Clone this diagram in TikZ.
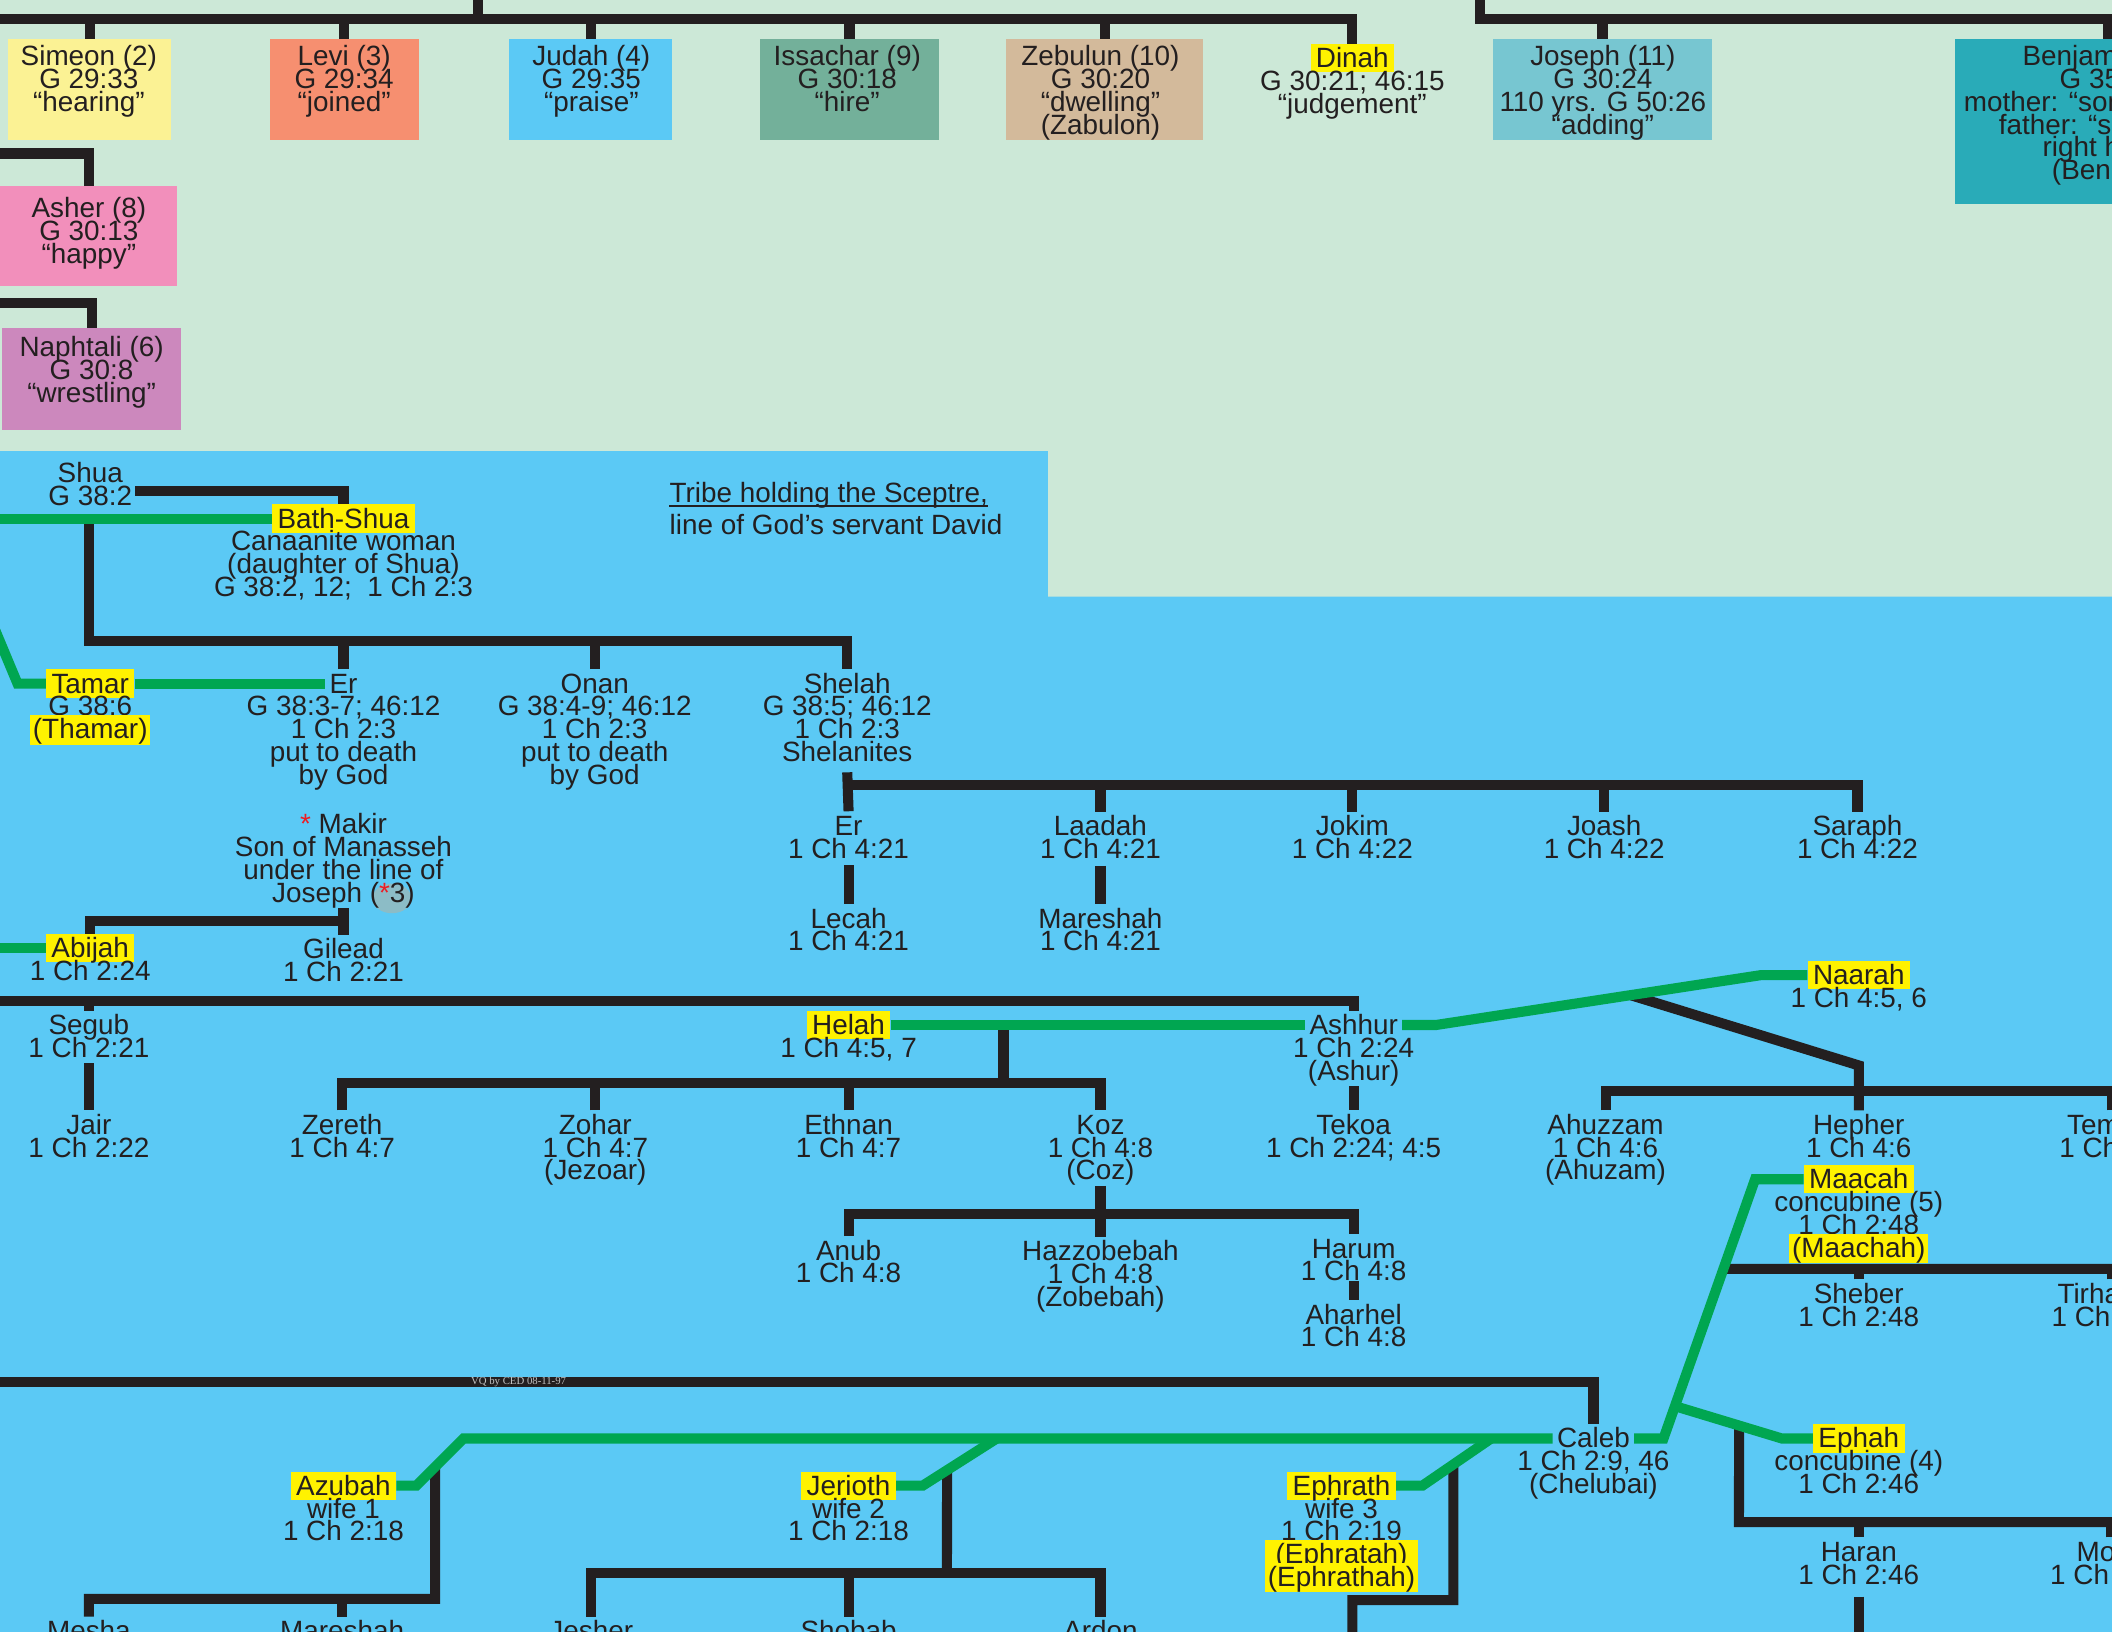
\documentclass[tikz,border=0pt]{standalone}
\usepackage{fontspec}
\usepackage{calc}
\setmainfont{Liberation Sans}
\newfontfamily\vqfont{Liberation Serif}
\usetikzlibrary{calc}
\definecolor{bggreen}{HTML}{CCE8D7}
\definecolor{judahblue}{HTML}{5BC9F5}
\definecolor{ink}{HTML}{231F20}
\definecolor{lnblack}{HTML}{231F20}
\definecolor{lngreen}{HTML}{00A651}
\definecolor{hly}{HTML}{FFF200}
\definecolor{cSimeon}{HTML}{FBF294}
\definecolor{cLevi}{HTML}{F68F70}
\definecolor{cIssachar}{HTML}{73B09A}
\definecolor{cZebulun}{HTML}{D3BA9B}
\definecolor{cJoseph}{HTML}{77C6D1}
\definecolor{cBenjamin}{HTML}{29ABB8}
\definecolor{cAsher}{HTML}{F28FBB}
\definecolor{cNaphtali}{HTML}{CC88BD}
\definecolor{astred}{HTML}{ED1C24}
\definecolor{markgray}{HTML}{8CBCC6}
\definecolor{vqgray}{HTML}{C4C4C4}
\pgfdeclarelayer{bg}
\pgfdeclarelayer{lines}
\pgfsetlayers{bg,lines,main}
\newcommand\fs{\fontsize{20.7}{17}\selectfont}
\newcommand\Lns[1]{\vtop{\baselineskip=17pt\lineskiplimit=-100pt\lineskip=0pt\let\\\cr\halign{\hfil##\hfil\cr#1\crcr}}}
\newcommand\hl[1]{{\fboxsep=0pt\colorbox{hly}{\rule[-3.5pt]{0pt}{21pt}\hspace{2pt}#1\hspace{2pt}}}}
\newcommand\rast{\textcolor{astred}{*}}
\newcommand\Person[5][nm]{%
  \node[#1] (#2) at #3 {#4};
  \node[dt] (#2-d) at ([yshift=-17pt]#2.base) {\Lns{#5}};}
\begin{document}
\begin{tikzpicture}[x=1pt,y=-1pt,
  nm/.style={anchor=base,yshift=-7pt,inner xsep=3pt,inner ysep=0pt,text height=17.5pt,text depth=3.5pt,font=\fs,text=ink},
  hn/.style={nm,fill=hly,inner xsep=4pt},
  dt/.style={anchor=base,inner sep=0pt,font=\fs,text=ink},
  sonbox/.style={anchor=north west,inner sep=0pt,draw=none},
  bl/.style={draw=lnblack,line width=7.5pt},
  gl/.style={draw=lngreen,line width=7.5pt}]
\useasboundingbox (0,0) rectangle (1568,1211.6);
\clip (0,0) rectangle (1568,1211.6);
\begin{pgfonlayer}{bg}
\fill[bggreen] (0,0) rectangle (1568,1211.6);
\fill[judahblue] (0,335) -- (778,335) -- (778,443) -- (1568,443) -- (1568,1211.6) -- (0,1211.6) -- cycle;
\fill[markgray] (291,667) ellipse [x radius=14.5, y radius=11];
\end{pgfonlayer}

% coloured boxes of the sons
\node[sonbox,fill=cSimeon,minimum width=121pt,minimum height=75pt] (simeonB) at (6,29) {};
\node[sonbox,fill=cLevi,minimum width=111pt,minimum height=75pt] (leviB) at (200,29) {};
\node[sonbox,fill=judahblue,minimum width=121pt,minimum height=75pt] (judahB) at (378,29) {};
\node[sonbox,fill=cIssachar,minimum width=133pt,minimum height=75pt] (issacharB) at (564,29) {};
\node[sonbox,fill=cZebulun,minimum width=146pt,minimum height=75pt] (zebulunB) at (747,29) {};
\node[sonbox,fill=cJoseph,minimum width=163pt,minimum height=75pt] (josephB) at (1108,29) {};
\node[sonbox,fill=cBenjamin,minimum width=228pt,minimum height=122pt] (benjaminB) at (1451,29) {};
\node[sonbox,fill=cAsher,minimum width=131.5pt,minimum height=74pt] (asherB) at (0,138) {};
\node[sonbox,fill=cNaphtali,minimum width=133pt,minimum height=75.5pt] (naphtaliB) at (1.5,243.5) {};

\Person{simeon}{(66,41.5)}{Simeon (2)}{G 29:33\\“hearing”}
\Person{levi}{(255.5,41.5)}{Levi (3)}{G 29:34\\“joined”}
\Person{judah}{(439,41.5)}{Judah (4)}{G 29:35\\“praise”}
\Person{issachar}{(629,41.5)}{Issachar (9)}{G 30:18\\“hire”}
\Person{zebulun}{(817,41.5)}{Zebulun (10)}{G 30:20\\“dwelling”\\(Zabulon)}
\Person[hn]{dinah}{(1004,43)}{Dinah}{G 30:21; 46:15\\“judgement”}
\Person{joseph}{(1190,41.5)}{Joseph (11)}{G 30:24\\110 yrs. G 50:26\\“adding”}
\Person{benjamin}{(1566,41.5)}{Benjamin (12)}{G 35:18\\mother: “son of sorrow”\\father: “son of the\\right hand”\\(Ben-oni)}
\Person{asher}{(66,154.5)}{Asher (8)}{G 30:13\\“happy”}
\Person{naphtali}{(68,257.5)}{Naphtali (6)}{G 30:8\\“wrestling”}

\Person{shua}{(67,351)}{Shua}{G 38:2}
\Person[hn]{bathshua}{(255,385)}{Bath-Shua}{Canaanite woman\\(daughter of Shua)\\G 38:2, 12;\ \ 1 Ch 2:3}
\node[dt,anchor=base west] (tribe1) at (497,373.4) {Tribe holding the Sceptre,};
\node[dt,anchor=base west] (tribe2) at (497,396.8) {line of God’s servant David};
\draw[ink,line width=1.3pt] ([yshift=-2pt]tribe1.base west) -- ([yshift=-2pt]tribe1.base east);

\Person[hn]{tamar}{(67,507.5)}{Tamar}{G 38:6\\\hl{(Thamar)}}
\Person{er}{(255,507.5)}{Er}{G 38:3-7; 46:12\\1 Ch 2:3\\put to death\\by God}
\Person{onan}{(441.5,507.5)}{Onan}{G 38:4-9; 46:12\\1 Ch 2:3\\put to death\\by God}
\Person{shelah}{(629,507.5)}{Shelah}{G 38:5; 46:12\\1 Ch 2:3\\Shelanites}
\Person{er2}{(630,613)}{Er}{1 Ch 4:21}
\Person{laadah}{(817,613.5)}{Laadah}{1 Ch 4:21}
\Person{jokim}{(1004,613.5)}{Jokim}{1 Ch 4:22}
\Person{joash}{(1191,613.5)}{Joash}{1 Ch 4:22}
\Person{saraph}{(1379,613.5)}{Saraph}{1 Ch 4:22}
\Person{lecah}{(630,682)}{Lecah}{1 Ch 4:21}
\Person{mareshahA}{(817,682)}{Mareshah}{1 Ch 4:21}
\Person{makir}{(255,611.7)}{\rast\ Makir}{Son of Manasseh\\under the line of\\Joseph (\rast3)}
\Person{gilead}{(255,704.5)}{Gilead}{1 Ch 2:21}
\Person[hn]{abijah}{(67,704)}{Abijah}{1 Ch 2:24}
\Person{segub}{(66,761)}{Segub}{1 Ch 2:21}
\Person{jair}{(66,835)}{Jair}{1 Ch 2:22}
\Person[hn]{helah}{(630,761)}{Helah}{1 Ch 4:5, 7}
\Person{ashhur}{(1005,761)}{Ashhur}{1 Ch 2:24\\(Ashur)}
\Person[hn]{naarah}{(1380,724)}{Naarah}{1 Ch 4:5, 6}
\Person{zereth}{(254,835)}{Zereth}{1 Ch 4:7}
\Person{zohar}{(442,835)}{Zohar}{1 Ch 4:7\\(Jezoar)}
\Person{ethnan}{(630,835)}{Ethnan}{1 Ch 4:7}
\Person{koz}{(817,835)}{Koz}{1 Ch 4:8\\(Coz)}
\Person{tekoa}{(1005,835)}{Tekoa}{1 Ch 2:24; 4:5}
\Person{ahuzzam}{(1192,835)}{Ahuzzam}{1 Ch 4:6\\(Ahuzam)}
\Person{hepher}{(1380,835)}{Hepher}{1 Ch 4:6}
\Person{temeni}{(1568,835)}{Temeni}{1 Ch 4:6}
\Person{anub}{(630,928.5)}{Anub}{1 Ch 4:8}
\Person{hazzobebah}{(817,929)}{Hazzobebah}{1 Ch 4:8\\(Zobebah)}
\Person{harum}{(1005,927)}{Harum}{1 Ch 4:8}
\Person{aharhel}{(1005,976)}{Aharhel}{1 Ch 4:8}
\Person[hn]{maacah}{(1380,875.5)}{Maacah}{concubine (5)\\1 Ch 2:48\\\hl{(Maachah)}}
\Person{sheber}{(1380,960.5)}{Sheber}{1 Ch 2:48}
\Person{tirhanah}{(1568,960.5)}{Tirhanah}{1 Ch 2:48}
\Person{caleb}{(1183,1068)}{Caleb}{1 Ch 2:9, 46\\(Chelubai)}
\Person[hn]{ephah}{(1380,1068)}{Ephah}{concubine (4)\\1 Ch 2:46}
\Person{haran}{(1380,1152)}{Haran}{1 Ch 2:46}
\Person{moza}{(1567,1152)}{Moza}{1 Ch 2:46}
\Person[hn]{azubah}{(255,1103)}{Azubah}{wife 1\\1 Ch 2:18}
\Person[hn]{jerioth}{(630,1103)}{Jerioth}{wife 2\\1 Ch 2:18}
\Person[hn]{ephrath}{(996,1103)}{Ephrath}{wife 3\\1 Ch 2:19\\\hl{\makebox[\widthof{(Ephrathah)}][c]{(Ephratah)}}\\\hl{(Ephrathah)}}
\node[nm] (mesha) at (66,1211) {Mesha};
\node[nm] (mareshahB) at (254,1211) {Mareshah};
\node[nm] (jesher) at (439,1211) {Jesher};
\node[nm] (shobab) at (630,1211) {Shobab};
\node[nm] (ardon) at (817,1211) {Ardon};
\node[inner sep=0pt,font=\vqfont\fontsize{8}{8}\selectfont,text=vqgray] (vq) at (385,1026) {VQ by CED 08-11-97};

% named points of the connector network
\coordinate (tbL) at (-10,14);
\coordinate (tbR) at (1640,14);
\coordinate (topin1) at (355,-10);
\coordinate (topin2) at (1099,-10);
\coordinate (asherIn) at (-10,114);
\coordinate (naphIn) at (-10,225);
\coordinate (gIn1) at (-10,385);
\coordinate (jd) at (66,385);
\coordinate (sonsbar) at (66,476);
\coordinate (shbar) at (629,583);
\coordinate (gIn2) at (-6,462);
\coordinate (tk) at (13,507.5);
\coordinate (mkbar) at (254,684);
\coordinate (gIn3) at (-10,704);
\coordinate (bbL) at (-10,743);
\coordinate (hk) at (745,761);
\coordinate (hbar) at (745,804);
\coordinate (ak1) at (1066,761);
\coordinate (ak2) at (1307,724);
\coordinate (nk) at ($(ak1)!0.6!(ak2)$);
\coordinate (hpk) at (1380,791);
\coordinate (hpbar) at (1380,810);
\coordinate (hpR) at (1640,810);
\coordinate (kbar) at (817,901);
\coordinate (cbL) at (-10,1026);
\coordinate (az0) at (309,1103);
\coordinate (cw1) at (344,1068);
\coordinate (az1) at ($(az0)!0.4!(cw1)$);
\coordinate (azbar) at (323,1187);
\coordinate (jr0) at (685,1103);
\coordinate (jr2) at (740,1068);
\coordinate (jr1) at ($(jr0)!0.33!(jr2)$);
\coordinate (jrbar) at (703,1168);
\coordinate (ep0) at (1056,1103);
\coordinate (ep2) at (1107,1068);
\coordinate (ep1) at ($(ep0)!0.45!(ep2)$);
\coordinate (epbar) at (1079,1188);
\coordinate (epOut) at (1004,1230);
\coordinate (cm1) at (1235,1068);
\coordinate (cm2) at (1303,875.5);
\coordinate (mcL) at ($(cm1)!0.6545!(cm2)$);
\coordinate (mcR) at (1640,942);
\coordinate (ce1) at ($(cm1)!0.125!(cm2)$);
\coordinate (ce2) at (1323,1068);
\coordinate (ph1) at ($(ce1)!0.6!(ce2)$);
\coordinate (phbar) at (1291,1130);
\coordinate (phR) at (1640,1130);
\coordinate (haranOut) at (1380,1230);

\begin{pgfonlayer}{lines}
% black lines of descent
\draw[bl] (tbL) -| (dinah.north);
\draw[bl] (topin1) -- (topin1 |- tbL);
\draw[bl] (topin2) |- (tbR);
\foreach \b in {simeonB,leviB,judahB,issacharB,zebulunB} \draw[bl] (\b.north) -- (\b.north |- tbL);
\foreach \b in {josephB,benjaminB} \draw[bl] (\b.north) -- (\b.north |- tbR);
\draw[bl] (asherIn) -| (asherB.north);
\draw[bl] (naphIn) -| (naphtaliB.north);
\draw[bl] ([xshift=2pt,yshift=3.5pt]shua-d.east) -| (bathshua.north);
\draw[bl] (jd) -- (sonsbar) -| (shelah.north);
\draw[bl] (er.north) -- (er.north |- sonsbar);
\draw[bl] (onan.north) -- (onan.north |- sonsbar);
\draw[bl] ([yshift=-7.5pt]shelah-d.south) -- (er2.north);
\draw[bl] (shbar) -| (saraph.north);
\foreach \n in {laadah,jokim,joash} \draw[bl] (\n.north) -- (\n.north |- shbar);
\draw[bl] ([yshift=-5pt]er2-d.south) -- (lecah.north);
\draw[bl] ([yshift=-5pt]laadah-d.south) -- (mareshahA.north);
\draw[bl] (makir-d.south) -- (gilead.north);
\draw[bl] (mkbar) -| (abijah.north);
\draw[bl] (bbL) -| (ashhur.north);
\draw[bl] (segub.north) -- (segub.north |- bbL);
\draw[bl] ([yshift=-4pt]segub-d.south) -- (jair.north);
\draw[bl] (hk) -- (hbar);
\draw[bl] (zereth.north) -- (zereth.north |- hbar) -- (koz.north |- hbar) -- (koz.north);
\draw[bl] (zohar.north) -- (zohar.north |- hbar);
\draw[bl] (ethnan.north) -- (ethnan.north |- hbar);
\draw[bl] (ashhur-d.south) -- (tekoa.north);
\draw[bl] (nk) -- (hpk) -- (hepher.north);
\draw[bl] (ahuzzam.north) -- (ahuzzam.north |- hpbar) -- (hpR);
\draw[bl] (temeni.north) -- (temeni.north |- hpbar);
\draw[bl] (koz-d.south) -- (hazzobebah.north);
\draw[bl] (anub.north) -- (anub.north |- kbar) -- (harum.north |- kbar) -- (harum.north);
\draw[bl] (harum-d.south) -- (aharhel.north);
\draw[bl] (cbL) -| (caleb.north);
\draw[bl] (az1) -- (azbar) -| (mesha.north);
\draw[bl] (mareshahB.north) -- (mareshahB.north |- azbar);
\draw[bl] (jr1) -- (jrbar);
\draw[bl] (jesher.north) -- (jesher.north |- jrbar) -- (ardon.north |- jrbar) -- (ardon.north);
\draw[bl] (shobab.north) -- (shobab.north |- jrbar);
\draw[bl] (ep1) -- (epbar) -| (epOut);
\draw[bl] (mcL) -- (mcR);
\draw[bl] (sheber.north) -- (sheber.north |- mcL);
\draw[bl] (tirhanah.north) -- (tirhanah.north |- mcL);
\draw[bl] (ph1) -- (phbar) -- (phR);
\draw[bl] (haran.north) -- (haran.north |- phbar);
\draw[bl] (moza.north) -- (moza.north |- phbar);
\draw[bl] ([yshift=-9pt]haran-d.south) -- (haranOut);
% green lines of marriage
\draw[gl] (gIn1) -- (bathshua.west);
\draw[gl] (gIn2) -- (tk) -- (tamar.west);
\draw[gl] (tamar.east) -- (er.west);
\draw[gl] (gIn3) -- (abijah.west);
\draw[gl] (helah.east) -- (ashhur.west);
\draw[gl] (ashhur.east) -- (ak1) -- (ak2) -- (naarah.west);
\draw[gl] (azubah.east) -- (az0) -- (cw1) -- (caleb.west);
\draw[gl] (jerioth.east) -- (jr0) -- (jr2);
\draw[gl] (ephrath.east) -- (ep0) -- (ep2);
\draw[gl] (caleb.east) -- (cm1) -- (cm2) -- (maacah.west);
\draw[gl] (ce1) -- (ce2) -- (ephah.west);
\end{pgfonlayer}
\end{tikzpicture}
\end{document}
